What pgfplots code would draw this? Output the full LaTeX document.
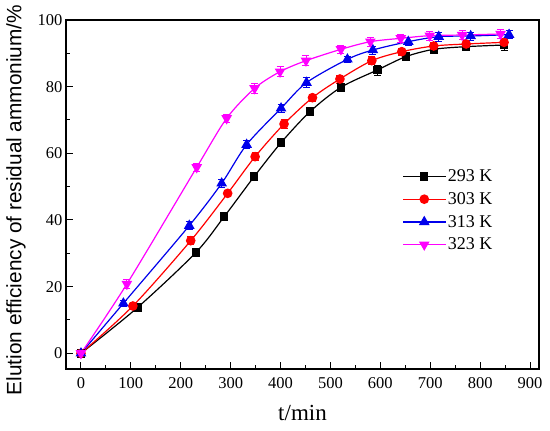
\documentclass[border=0pt]{standalone}
\usepackage{pgfplots}
\pgfplotsset{compat=1.18}
\usepackage{fontspec}
\setmainfont{Liberation Serif}
\newfontfamily\labelsans{Liberation Sans}
\definecolor{cmag}{RGB}{255,0,255}
\definecolor{cblue}{RGB}{0,0,235}
\definecolor{cred}{RGB}{255,0,0}
\begin{document}
\begin{tikzpicture}
\begin{axis}[
  scale only axis, width=473pt, height=349pt,
  xmin=-30, xmax=918, ymin=-4.7, ymax=100,
  xtick={0,100,...,900}, ytick={0,20,...,100},
  minor x tick num=1, minor y tick num=1,
  tick align=inside, tick pos=left,
  major tick length=7pt, minor tick length=4pt,
  every tick/.style={black, line width=1pt},
  axis line style={line width=1.5pt},
  ticklabel style={font=\fontsize{16.5}{18}\selectfont},
  xticklabel style={yshift=-5pt},
  /pgf/number format/assume math mode=true,
  xlabel={t/min},
  every axis x label/.style={font=\fontsize{23}{26}\selectfont, at={(rel axis cs:0.5,0)}, anchor=base, yshift=-52pt},
  ylabel={Elution efficiency of residual ammonium/\%},
  every axis y label/.style={font=\labelsans\fontsize{20.8}{24}\selectfont, at={([xshift=-50pt,yshift=-5.5pt]rel axis cs:0,0.5)}, rotate=90, anchor=center},
  legend style={draw=none, fill=none, at={(rel axis cs:0.705,0.583)}, anchor=north west, font=\fontsize{18}{20}\selectfont, row sep=5.3pt},
  legend cell align=left,
  legend image code/.code={\draw[mark repeat=2,mark phase=2] plot coordinates {(0pt,0pt) (21pt,0pt) (42pt,0pt)};},
  every axis plot/.append style={line width=1.2pt, smooth, tension=0.5},
  error bars/y dir=both, error bars/y explicit,
  error bars/error bar style={line width=0.9pt},
  error bars/error mark options={rotate=90, mark size=3.5pt, line width=0.9pt},
]
\coordinate (bl) at (rel axis cs:0,0);
\coordinate (tr) at (rel axis cs:1,1);
\addplot[black, mark=square*, mark size=3.6pt, mark options={solid}] table[y error index=2] {
x y e
0 0 0.5
113 13.7 0.8
230 30.2 1.0
287 41 1.2
347 53 1.0
401 63.2 1.2
459 72.5 1.0
521 79.8 1.0
594 85 1.5
651 89 1.0
707 91.2 1.0
772 92 1.2
848 92.5 1.6
};
\addlegendentry{293 K}
\addplot[cred, mark=*, mark size=4.2pt, mark options={solid}] table[y error index=2] {
x y e
0 0 0.5
104 14.2 0.8
220 33.8 1.2
294 48 1.0
349 59 1.2
407 68.8 1.4
464 76.7 1.0
519 82.3 1.2
583 87.8 1.2
643 90.5 1.0
707 92.2 1.0
772 92.8 1.0
848 93.3 1.2
};
\addlegendentry{303 K}
\addplot[cblue, mark=triangle*, mark size=5pt, mark options={solid}] table[y error index=2] {
x y e
0 0 0.5
85 15 0.8
217 38.3 1.2
282 51 1.2
332 62.6 1.2
401 73.5 1.2
452 81.2 1.5
534 88.2 1.0
585 91 1.2
656 93.5 1.2
717 95 1.4
781 95.2 1.2
858 95.6 1.2
};
\addlegendentry{313 K}
\addplot[cmag, mark=triangle*, mark size=5pt, mark options={solid, rotate=180}] table[y error index=2] {
x y e
0 0 0.5
92 20.8 1.4
232 55.8 1.2
292 70.5 1.2
348 79.5 1.5
399 84.5 1.5
451 87.8 1.5
521 91.2 1.3
580 93.5 1.3
641 94.5 1.3
699 95.3 1.3
764 95.5 1.3
841 95.8 1.3
};
\addlegendentry{323 K}
\end{axis}
\pgfresetboundingbox
\path ([xshift=-66pt,yshift=-62pt]bl) rectangle ([xshift=11pt,yshift=20pt]tr);
\end{tikzpicture}
\end{document}
